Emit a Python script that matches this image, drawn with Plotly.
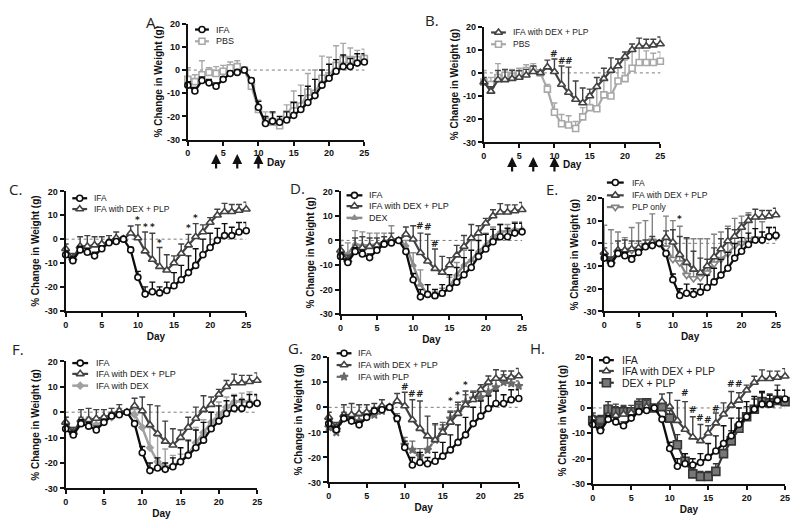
import plotly.graph_objects as go

FIG_W, FIG_H = 800, 528
DAYS = list(range(26))
X_TICKS = [0, 5, 10, 15, 20, 25]
Y_TICKS = [-30, -20, -10, 0, 10, 20]
Y_TICKTEXT = ["-30", "-20", "-10", "0", "10", "20"]
ARROW_DAYS = [4, 7, 10]

# ---- series (mean % change, upper SEM) ----
IFA = [-6.5, -9, -4.5, -5.5, -7, -4, -1.5, -1, 0, -4.5, -16, -23, -22, -22.5, -21.5, -19.5, -17, -14, -11, -6.5, -3.5, -0.5, 1.5, 1.5, 3, 3.5]
IFA_ERR = [1.5, 1.5, 1.5, 1.5, 1.5, 1, 1, 1, 0.5, 1, 2.5, 3, 4, 2.5, 3.5, 5.5, 6, 7, 7, 6.5, 6, 5, 5, 3.5, 4, 3.5]

DEX_PLP_IFA = [-4, -8, -3, -3, -2.5, -2, -1, 0.5, 0, 2.5, 0.5, -5, -8.5, -11.5, -13, -10, -6, -2.5, 1, 3, 7, 10, 11.5, 11.5, 12, 12.5]
DEX_PLP_IFA_ERR = [2, 2, 4, 4.5, 3.5, 3, 2.5, 2.5, 0.5, 3, 5.5, 8, 11, 8, 6.5, 3, 4, 4.5, 5.5, 3, 2, 2.5, 3.5, 3, 2.5, 3]

PBS = [-4, -5, -2, -1, -1.5, -0.5, 1, 1.5, 0, -7, -17, -22, -22.5, -24, -19, -15, -15.5, -9.5, -10, -3.5, -2.5, 2, 4.5, 4.5, 4.5, 5]
PBS_ERR = [5, 3, 6, 2, 3, 2.5, 2.5, 2.5, 0.5, 2, 4, 4, 4, 3, 4, 6, 9, 8, 10, 9.5, 8, 8.5, 7, 5, 4, 4]

DEX = [-5, -5.5, -1.5, -2, -2, -1.5, -0.5, 0.5, 0, -2, -10, -18, -22, -23, -22, -19, -14, -10, -8, -4.5, -2, 1.5, 3.5, 4, 4.5, 4.5]
DEX_ERR = [5, 4.5, 5.5, 5.5, 5, 4.5, 3.5, 5.5, 0.5, 2, 5, 6, 4, 2, 2.5, 4, 5, 6, 8, 7, 5, 4, 3, 2.5, 3, 3]

PLP_ONLY = [-5, -7, -4, -4, -3, -2.5, -1, 1, 0, -2, -7, -8.5, -14, -15.5, -15, -13, -9, -7, -4.5, -1, 0, 1.5, 2, 1.5, 3, 3]
PLP_ONLY_ERR = [13, 13, 9, 6.5, 10, 11.5, 11, 12, 0.5, 14, 17, 16, 16, 17.5, 17, 15, 13, 12, 12, 12, 12, 12, 9, 8, 4, 4]

IFA_DEX = [-4, -8, -4, -4, -5, -3.5, -2, 0, 0, -1, -6, -14, -19.5, -21.5, -21, -19.5, -16.5, -12, -8, -4, -1, 2, 4, 4.5, 4, 3.5]
IFA_DEX_ERR = [2, 2, 2, 2, 2, 2, 2, 1.5, 0.5, 2, 6, 8, 10, 7, 4, 3, 5, 6, 5, 4, 5, 4, 3, 3, 4, 3]

IFA_PLP = [-8, -10, -4, -5, -5.5, -3.5, -3, -1.5, 0, -4.5, -15, -17, -19.5, -17, -13, -9, -4.5, -2, 2, 3.5, 4, 6, 8, 10, 9.5, 8.5]
IFA_PLP_ERR = [2, 2, 2, 2, 2, 2, 2, 2, 0.5, 2, 3, 3.5, 3, 5, 6, 3, 3, 3, 3, 3, 3, 3, 3, 3, 3, 2]

DEXPLP = [-5, -5, -0.5, -1.5, -1.5, -1.5, 1, 2, 0, 0.5, -4, -14.5, -21, -26, -27, -27, -25, -18, -13, -8, -3.5, -0.5, 2.5, 2, 3, 2.5]
DEXPLP_ERR = [2, 2, 3, 2, 2, 1.5, 2.5, 1.5, 0.5, 2, 3, 4, 3, 2, 2, 2, 3, 3, 4, 4, 4, 4, 3.5, 3.5, 6, 4.5]

# significance marks (day, height)
SIG_B_DAYS, SIG_B_Y = [10, 11, 12], [8, 5.3, 5.3]
SIG_C_DAYS, SIG_C_Y = [10, 11, 12, 13, 17, 18], [7.9, 5.2, 5, -1.7, 4.6, 8.8]
SIG_D_DAYS, SIG_D_Y = [11, 12, 13], [5.7, 5.3, -1.3]
SIG_E_DAYS, SIG_E_Y = [11], [10.9]
SIG_GH_DAYS, SIG_GH_Y = [10, 11, 12], [8.2, 5.2, 5.2]
SIG_GS_DAYS, SIG_GS_Y = [16, 17, 18], [2.4, 5, 8.9]
SIG_H_DAYS, SIG_H_Y = [12, 13, 14, 15, 16, 18, 19], [5.8, -0.8, -4, -4.6, -0.4, 9.3, 9.3]

SERIES = {
    "IFA": (IFA, IFA_ERR),
    "DEXPLP_IFA": (DEX_PLP_IFA, DEX_PLP_IFA_ERR),
    "PBS": (PBS, PBS_ERR),
    "DEX": (DEX, DEX_ERR),
    "PLP": (PLP_ONLY, PLP_ONLY_ERR),
    "IFA_DEX": (IFA_DEX, IFA_DEX_ERR),
    "IFA_PLP": (IFA_PLP, IFA_PLP_ERR),
    "DEXPLP": (DEXPLP, DEXPLP_ERR),
}

STYLE = {
    "IFA": dict(color="#0d0d0d", fill="white", symbol="circle", size=6, dash="solid", lw=2.3),
    "DEXPLP_IFA": dict(color="#424242", fill="white", symbol="triangle-up", size=7, dash="solid", lw=2.2),
    "PBS": dict(color="#a8a8a8", fill="white", symbol="square", size=6, dash="solid", lw=2.2),
    "DEX": dict(color="#8c8c8c", fill="#8c8c8c", symbol="triangle-up", size=5, dash="solid", lw=2.5),
    "PLP": dict(color="#838383", fill="white", symbol="triangle-down", size=7, dash="solid", lw=2.2),
    "IFA_DEX": dict(color="#a0a0a0", fill="#a0a0a0", symbol="diamond", size=5, dash="solid", lw=2.5),
    "IFA_PLP": dict(color="#6a6a6a", fill="#6a6a6a", symbol="star", size=6, dash="dash", lw=2.2),
    "DEXPLP": dict(color="#353535", fill="#777777", symbol="square", size=8, dash="solid", lw=2.2),
}

FONT = "Liberation Sans, Arial, sans-serif"
LETTER_FONT = "Open Sans, Noto Sans, sans-serif"

PANELS = [
    dict(letter="A.", keys=["IFA", "PBS"], labels=["IFA", "PBS"],
         plot=(186.7, 19, 365, 137.3), letter_pos=(151, 17),
         leg=(194, 208, 213, [25, 37]), leg_font=9,
         arrows=(152, 168), day_pos=(276, 161), sig=[]),
    dict(letter="B.", keys=["DEXPLP_IFA", "PBS"], labels=["IFA with DEX + PLP", "PBS"],
         plot=(485.7, 22, 664, 140), letter_pos=(433, 15),
         leg=(493, 508, 513, [28, 40]), leg_font=8.5,
         arrows=(155, 171), day_pos=(575, 163),
         sig=[(SIG_B_DAYS, SIG_B_Y, "#")]),
    dict(letter="C.", keys=["IFA", "DEXPLP_IFA"], labels=["IFA", "IFA with DEX + PLP"],
         plot=(63.3, 190, 245.7, 311.7), letter_pos=(13, 188),
         leg=(70, 85, 90, [197, 208]), leg_font=8.5,
         arrows=None, day_pos=None, sig=[(SIG_C_DAYS, SIG_C_Y, "*")]),
    dict(letter="D.", keys=["IFA", "DEXPLP_IFA", "DEX"], labels=["IFA", "IFA with DEX + PLP", "DEX"],
         plot=(341, 190, 524.3, 315), letter_pos=(297, 187),
         leg=(347, 363, 368, [194, 205, 217]), leg_font=9,
         arrows=None, day_pos=None, sig=[(SIG_D_DAYS, SIG_D_Y, "#")]),
    dict(letter="E.", keys=["IFA", "DEXPLP_IFA", "PLP"], labels=["IFA", "IFA with DEX + PLP", "PLP only"],
         plot=(607.3, 196.7, 780.7, 312.3), letter_pos=(555, 188),
         leg=(610, 627, 633, [181, 194, 206]), leg_font=8.5,
         arrows=None, day_pos=None, sig=[(SIG_E_DAYS, SIG_E_Y, "*")]),
    dict(letter="F.", keys=["IFA", "DEXPLP_IFA", "IFA_DEX"], labels=["IFA", "IFA with DEX + PLP", "IFA with DEX"],
         plot=(63.3, 363.3, 256.7, 492.7), letter_pos=(15, 351),
         leg=(70, 86, 92, [365, 376, 388]), leg_font=9,
         arrows=None, day_pos=None, sig=[]),
    dict(letter="G.", keys=["IFA", "DEXPLP_IFA", "IFA_PLP"], labels=["IFA", "IFA with DEX + PLP", "IFA with PLP"],
         plot=(329, 359, 521, 486.7), letter_pos=(295, 350),
         leg=(337, 352, 357, [355, 367, 379]), leg_font=9,
         arrows=None, day_pos=None,
         sig=[(SIG_GH_DAYS, SIG_GH_Y, "#"), (SIG_GS_DAYS, SIG_GS_Y, "*")]),
    dict(letter="H.", keys=["IFA", "DEXPLP_IFA", "DEXPLP"], labels=["IFA", "IFA with DEX + PLP", "DEX + PLP"],
         plot=(595.7, 359, 790, 488.3), letter_pos=(540, 350),
         leg=(602, 617, 623, [362, 373, 385]), leg_font=10.5,
         arrows=None, day_pos=None, sig=[(SIG_H_DAYS, SIG_H_Y, "#")]),
]


def px_x(v):
    return v / FIG_W


def px_y(v):
    return 1 - v / FIG_H


fig = go.Figure()
layout = dict(width=FIG_W, height=FIG_H, margin=dict(l=0, r=0, t=0, b=0),
              paper_bgcolor="white", plot_bgcolor="rgba(0,0,0,0)", showlegend=False,
              font=dict(family=FONT, color="#111"))
annotations = []
shapes = []

tick_font = dict(family=FONT, size=9, color="#111", weight="bold")
title_font = dict(family=FONT, size=10, color="#111", weight="bold")

for i, p in enumerate(PANELS):
    n = i + 1
    sfx = "" if n == 1 else str(n)
    xa, ya = "x" + sfx, "y" + sfx
    x0, y0, x1, y1 = p["plot"]
    xdict = dict(domain=[px_x(x0), px_x(x1)], range=[0, 25], anchor=ya,
                 tickvals=X_TICKS, ticks="outside", ticklen=4, tickwidth=1.5, tickcolor="#111",
                 showline=True, linewidth=2, linecolor="#111", showgrid=False, zeroline=False,
                 tickfont=tick_font, fixedrange=True)
    if p["day_pos"] is None:
        xdict["title"] = dict(text="Day", font=title_font, standoff=4)
    ydict = dict(domain=[px_y(y1), px_y(y0)], range=[-30, 20], anchor=xa,
                 tickvals=Y_TICKS, ticktext=Y_TICKTEXT, ticks="outside", ticklen=4, tickwidth=1.5,
                 tickcolor="#111", showline=True, linewidth=2, linecolor="#111", showgrid=False,
                 zeroline=False, tickfont=tick_font, fixedrange=True,
                 title=dict(text="% Change in Weight (g)", font=title_font, standoff=3))
    layout["xaxis" + sfx] = xdict
    layout["yaxis" + sfx] = ydict

    shapes.append(dict(type="line", xref=xa + " domain", yref=ya, x0=0, x1=1, y0=0, y1=0,
                       line=dict(color="#7a7a7a", width=1, dash="dot"), layer="below"))

    for key in reversed(p["keys"]):
        vals, err = SERIES[key]
        st = STYLE[key]
        fig.add_trace(go.Scatter(
            x=DAYS, y=vals, xaxis=xa, yaxis=ya, mode="lines+markers",
            line=dict(color=st["color"], width=st["lw"], dash=st["dash"]),
            marker=dict(symbol=st["symbol"], size=st["size"], color=st["fill"],
                        line=dict(color=st["color"], width=1.6)),
            error_y=dict(type="data", symmetric=False, array=err, arrayminus=[0] * len(err),
                         color=st["color"], thickness=1.4, width=3),
            cliponaxis=False, hoverinfo="skip", showlegend=False))

    for days, ys, sym in p["sig"]:
        for d, yv in zip(days, ys):
            annotations.append(dict(x=d, y=yv, xref=xa, yref=ya, text="<b>" + sym + "</b>",
                                    showarrow=False,
                                    font=dict(family="DejaVu Sans, sans-serif", size=9, color="#222"),
                                    xanchor="center", yanchor="middle"))

    lx, ly = p["letter_pos"]
    annotations.append(dict(x=px_x(lx), y=px_y(ly), xref="paper", yref="paper", text=p["letter"],
                            showarrow=False, xanchor="center", yanchor="middle",
                            font=dict(family=LETTER_FONT, size=15, color="#222")))

    if p["arrows"] is not None:
        tip, tail = p["arrows"]
        for d in ARROW_DAYS:
            annotations.append(dict(x=d, y=px_y(tip), xref=xa, yref="paper", text="",
                                    showarrow=True, ax=0, ay=tail - tip, arrowhead=2,
                                    arrowsize=0.9, arrowwidth=2.2, arrowcolor="#111"))
        dx, dy = p["day_pos"]
        annotations.append(dict(x=px_x(dx), y=px_y(dy), xref="paper", yref="paper", text="<b>Day</b>",
                                showarrow=False, xanchor="center", yanchor="middle",
                                font=dict(family=FONT, size=10, color="#111")))

    # legend samples drawn on a pixel overlay axis
    sx0, sx1, tx, rows = p["leg"]
    for key, label, ry in zip(p["keys"], p["labels"], rows):
        st = STYLE[key]
        fig.add_trace(go.Scatter(x=[sx0, sx1], y=[ry, ry], xaxis="x9", yaxis="y9", mode="lines",
                                 line=dict(color=st["color"], width=st["lw"], dash=st["dash"]),
                                 cliponaxis=False, hoverinfo="skip", showlegend=False))
        fig.add_trace(go.Scatter(x=[(sx0 + sx1) / 2], y=[ry], xaxis="x9", yaxis="y9", mode="markers",
                                 marker=dict(symbol=st["symbol"], size=st["size"], color=st["fill"],
                                             line=dict(color=st["color"], width=1.6)),
                                 cliponaxis=False, hoverinfo="skip", showlegend=False))
        annotations.append(dict(x=px_x(tx), y=px_y(ry), xref="paper", yref="paper", text=label,
                                showarrow=False, xanchor="left", yanchor="middle",
                                font=dict(family=FONT, size=p["leg_font"], color="#222")))

layout["xaxis9"] = dict(domain=[0, 1], range=[0, FIG_W], visible=False, fixedrange=True, anchor="y9")
layout["yaxis9"] = dict(domain=[0, 1], range=[FIG_H, 0], visible=False, fixedrange=True, anchor="x9")
layout["annotations"] = annotations
layout["shapes"] = shapes
fig.update_layout(**layout)
fig.write_html("out.html", config={"displayModeBar": False},
               post_script="document.body.style.margin='0px';document.body.style.overflow='hidden';")
